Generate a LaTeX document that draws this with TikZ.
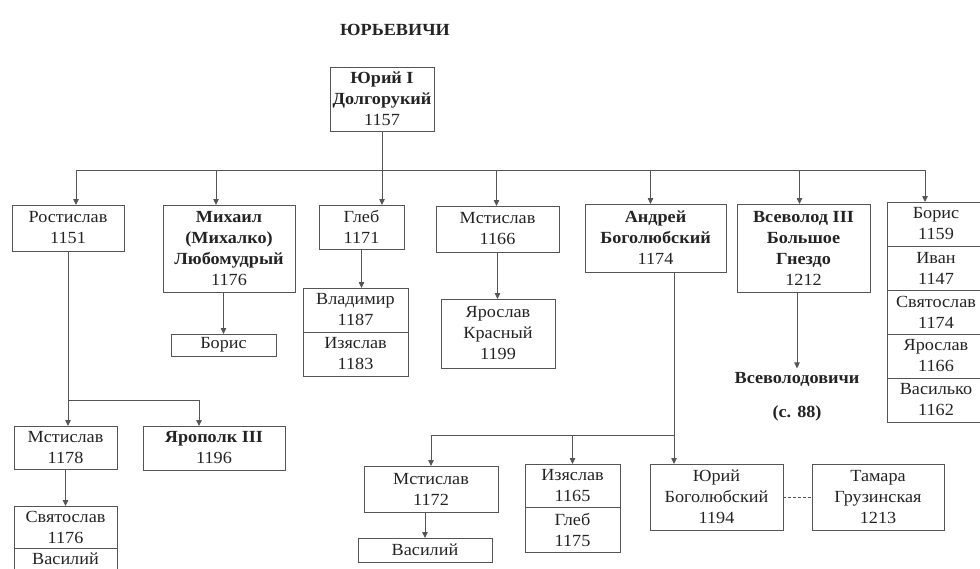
\documentclass[tikz,border=0pt]{standalone}
\usepackage{fontspec}
\setmainfont{Liberation Serif}[FakeStretch=1.07]
\usetikzlibrary{arrows.meta,positioning}
\definecolor{LineGray}{RGB}{85,85,85}
\definecolor{InkBlack}{RGB}{35,35,35}

\begin{document}
\begin{tikzpicture}[x=1pt, y=-1pt,
    box/.style={draw=LineGray, line width=0.8pt, outer sep=0pt, inner sep=1pt,
        align=center, text=InkBlack, font=\fontsize{17}{21}\selectfont},
    cell/.style={box, minimum height=44pt},
    label/.style={text=InkBlack, font=\fontsize{17}{21}\selectfont\bfseries},
    link/.style={draw=LineGray, line width=0.8pt},
    arr/.style={link, -{Triangle[length=6pt,width=5.5pt]}},
    marriage/.style={link, dash pattern=on 3pt off 2pt}]
    \useasboundingbox (0,0) rectangle (980,568);

    % Title and root
    \node[label] (title) at (395,30) {ЮРЬЕВИЧИ};
    \node[box, minimum width=104pt, minimum height=64pt] (yurii) at (382,99)
        {\textbf{Юрий I}\\\textbf{Долгорукий}\\1157};

    % Sons
    \node[box, minimum width=112pt, minimum height=46pt] (rostislav) at (68,228) {Ростислав\\1151};
    \node[box, minimum width=132pt, minimum height=87pt] (mikhail) at (229,248.5)
        {\textbf{Михаил}\\\textbf{(Михалко)}\\\textbf{Любомудрый}\\1176};
    \node[box, minimum width=85pt, minimum height=44pt] (gleb) at (361.5,227) {Глеб\\1171};
    \node[box, minimum width=123pt, minimum height=46pt] (mstislavA) at (497.5,229) {Мстислав\\1166};
    \node[box, minimum width=141pt, minimum height=68pt] (andrei) at (655.5,238)
        {\textbf{Андрей}\\\textbf{Боголюбский}\\1174};
    \node[box, minimum width=133pt, minimum height=88pt] (vsevolod) at (803.5,248)
        {\textbf{Всеволод III}\\\textbf{Большое}\\\textbf{Гнездо}\\1212};
    \foreach \i/\txt in {1/{Борис\\1159}, 2/{Иван\\1147}, 3/{Святослав\\1174},
                         4/{Ярослав\\1166}, 5/{Василько\\1162}} {
        \node[cell, minimum width=98pt] (side\i) at (936,{180+44*\i}) {\txt};
    }

    % Grandsons
    \node[box, minimum width=105pt, minimum height=22pt] (borisA) at (223.5,345) {Борис};
    \node[cell, minimum width=105pt] (vladimir) at (355.5,310) {Владимир\\1187};
    \node[cell, minimum width=105pt, below=0pt of vladimir] (izyaslavA) {Изяслав\\1183};
    \node[box, minimum width=114pt, minimum height=69pt] (yaroslav) at (498,333.5)
        {Ярослав\\Красный\\1199};
    \node[label] (vsevichi) at (797,379) {Всеволодовичи};
    \node[label] (page) at (797,413) {(с. 88)};

    \node[box, minimum width=103pt, minimum height=43pt] (mstislavB) at (65.5,447.5) {Мстислав\\1178};
    \node[box, minimum width=142pt, minimum height=44pt] (yaropolk) at (214,448)
        {\textbf{Ярополк III}\\1196};
    \node[box, minimum width=103pt, minimum height=42pt] (svyatoslavB) at (65.5,527) {Святослав\\1176};
    \node[box, minimum width=103pt, minimum height=22pt, below=0pt of svyatoslavB] (vasiliiB) {Василий};

    \node[box, minimum width=134pt, minimum height=46pt] (mstislavC) at (431,489) {Мстислав\\1172};
    \node[box, minimum width=134pt, minimum height=24pt] (vasiliiC) at (425,550) {Василий};
    \node[cell, minimum width=95pt, minimum height=43pt] (izyaslavB) at (572.5,485.5) {Изяслав\\1165};
    \node[cell, minimum width=95pt, minimum height=45pt, below=0pt of izyaslavB] (glebB) {Глеб\\1175};
    \node[box, minimum width=133pt, minimum height=66pt] (yuriiB) at (716.5,497)
        {Юрий\\Боголюбский\\1194};
    \node[box, minimum width=132pt, minimum height=66pt] (tamara) at (878,497)
        {Тамара\\Грузинская\\1213};

    % Main bus
    \coordinate (bus) at (0,170);
    \foreach \n/\dx in {rostislav/8, mikhail/-13, mstislavA/-1, andrei/-5, vsevolod/-4, side1/-11} {
        \coordinate (in-\n) at ([xshift=\dx pt]\n.north);
        \draw[arr] (in-\n |- bus) -- (in-\n);
    }
    \draw[link] (in-rostislav |- bus) -- (in-side1 |- bus);
    \draw[arr] (yurii.south) -- (yurii.south |- gleb.north);

    % Single lines of descent
    \draw[arr] (mikhail.south -| borisA.north) -- (borisA.north);
    \draw[arr] (gleb.south) -- (gleb.south |- vladimir.north);
    \draw[arr] (mstislavA.south) -- (mstislavA.south |- yaroslav.north);
    \draw[arr] (vsevolod.south -| vsevichi.north) -- (vsevichi.north);
    \draw[arr] (mstislavB.south) -- (svyatoslavB.north);
    \draw[arr] (mstislavC.south -| vasiliiC.north) -- (vasiliiC.north);

    % Rostislav's sons
    \coordinate (rbus) at (68,400);
    \coordinate (in-yaropolk) at ([xshift=-15pt]yaropolk.north);
    \draw[arr] (rostislav.south) -- (rostislav.south |- mstislavB.north);
    \draw[arr] (rbus) -| (in-yaropolk);

    % Andrei's sons
    \coordinate (abus) at (674,435);
    \draw[arr] (abus |- andrei.south) -- (abus |- yuriiB.north);
    \draw[link] (abus) -- (abus -| mstislavC.north);
    \foreach \n in {mstislavC, izyaslavB} {
        \draw[arr] (abus -| \n.north) -- (\n.north);
    }
    \draw[marriage] (yuriiB) -- (tamara);
\end{tikzpicture}
\end{document}
